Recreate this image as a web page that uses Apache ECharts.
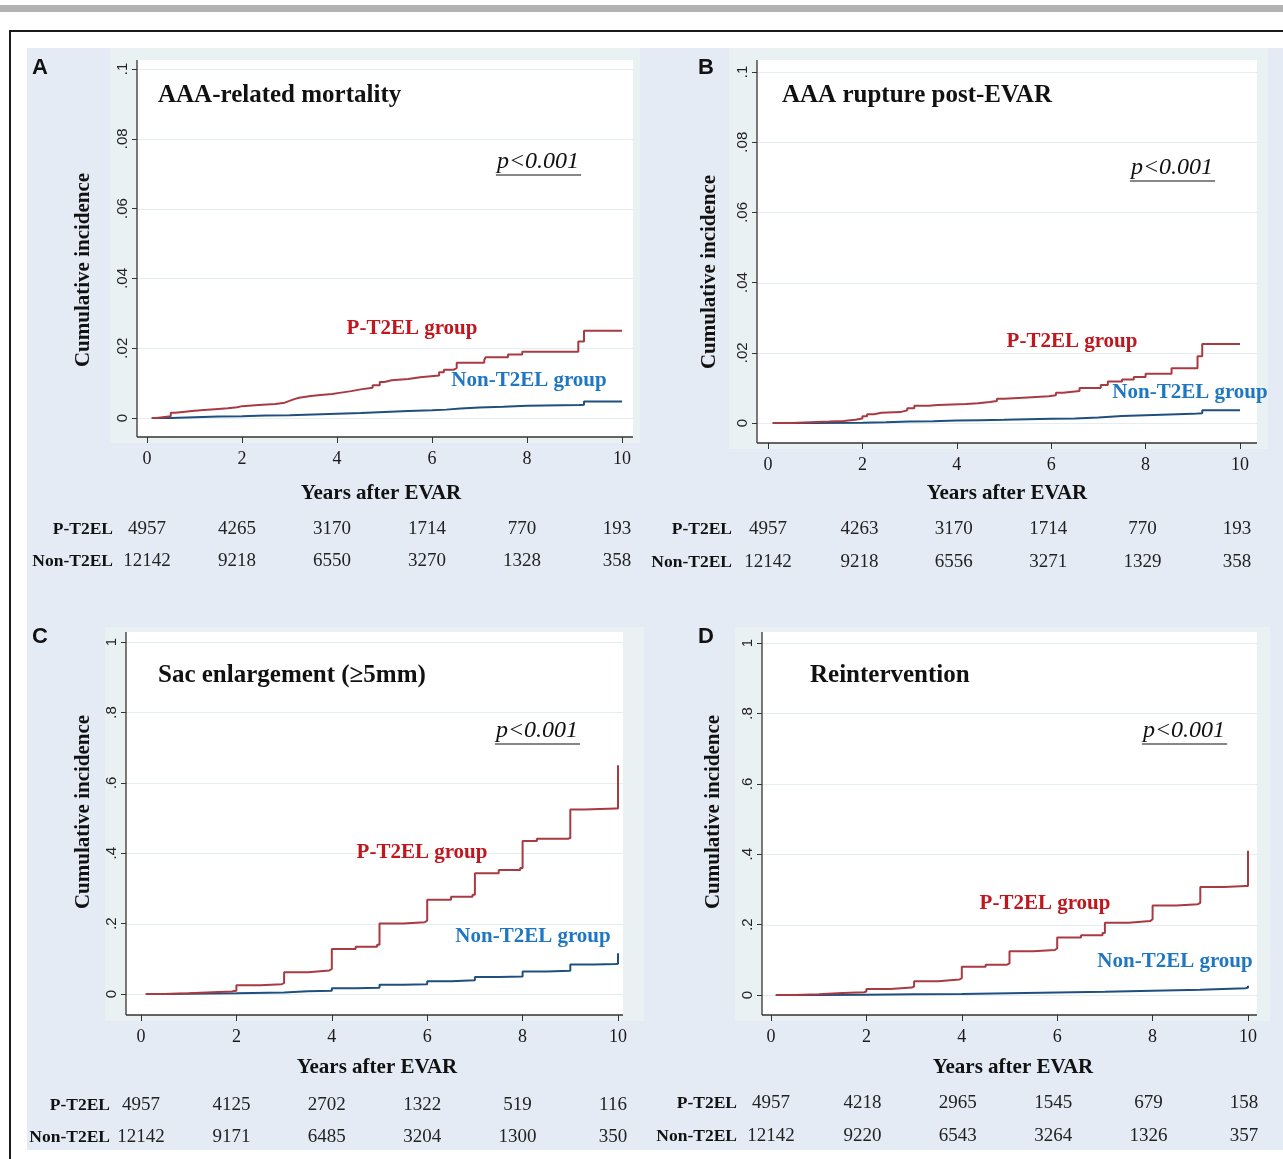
<!DOCTYPE html>
<html><head><meta charset="utf-8">
<script src="https://cdn.jsdelivr.net/npm/echarts@6/dist/echarts.min.js"></script>
<style>html,body{margin:0;padding:0;background:#fff}#c{width:1283px;height:1159px}</style>
</head><body><div id="c"></div><script>
// ---------------- DATA ----------------
const xTicks = [0, 2, 4, 6, 8, 10];
const yTicksSmall = [0, 0.02, 0.04, 0.06, 0.08, 0.1];
const yLabelsSmall = ['0', '.02', '.04', '.06', '.08', '.1'];
const yTicksBig = [0, 0.2, 0.4, 0.6, 0.8, 1];
const yLabelsBig = ['0', '.2', '.4', '.6', '.8', '1'];

const panelLetters = ['A', 'B', 'C', 'D'];
const panelTitles = ['AAA-related mortality', 'AAA rupture post-EVAR', 'Sac enlargement (\u22655mm)', 'Reintervention'];
const pValueText = 'p<0.001';
const groupNames = ['P-T2EL group', 'Non-T2EL group'];
const rowNames = ['P-T2EL', 'Non-T2EL'];
const yTitle = 'Cumulative incidence';
const xTitle = 'Years after EVAR';

// A: AAA-related mortality
const mortP = [[0.1,0],[0.2,0.0005],[0.5,0.0015],[0.6,0.0018],[0.8,0.0021],[1.0,0.0023],[1.2,0.0026],[1.5,0.0028],[1.7,0.0031],[1.9,0.0034],[2.0,0.0037],[2.35,0.004],[2.7,0.0044],[2.9,0.0049],[3.0,0.0054],[3.1,0.0058],[3.2,0.0063],[3.45,0.0066],[3.65,0.0069],[3.9,0.0072],[4.05,0.0077],[4.3,0.0082],[4.5,0.0087],[4.75,0.0094],[4.9,0.0103],[5.0,0.0108],[5.15,0.0112],[5.5,0.0117],[5.75,0.0122],[6.15,0.0131],[6.25,0.0138],[6.45,0.0143],[6.52,0.0158],[7.1,0.0166],[7.13,0.0174],[7.6,0.0182],[7.9,0.019],[9.08,0.0219],[9.2,0.025],[10,0.025]];
const mortN = [[0.1,0],[0.5,0.0002],[1.0,0.0004],[1.5,0.0005],[2.0,0.0007],[2.5,0.0008],[3.0,0.001],[3.5,0.0012],[4.0,0.0014],[4.5,0.0017],[5.0,0.002],[5.5,0.0022],[6.0,0.0024],[6.3,0.0027],[6.6,0.003],[7.0,0.0032],[7.5,0.0035],[8.0,0.0037],[9.1,0.0038],[9.2,0.0047],[10,0.0048]];
// B: AAA rupture post-EVAR
const ruptP = [[0.1,0],[0.5,0.0004],[1.3,0.0006],[1.6,0.0009],[1.85,0.0013],[2.0,0.0019],[2.1,0.0025],[2.25,0.0029],[2.4,0.0031],[2.8,0.0036],[2.95,0.0042],[3.1,0.0049],[3.4,0.0051],[3.6,0.0054],[4.2,0.0056],[4.45,0.006],[4.7,0.0063],[4.85,0.0069],[5.0,0.0073],[5.5,0.0076],[5.95,0.0079],[6.1,0.0086],[6.25,0.0091],[6.6,0.01],[7.05,0.0108],[7.2,0.0118],[7.5,0.0124],[7.75,0.0131],[8.0,0.014],[8.55,0.0156],[9.1,0.019],[9.2,0.0225],[10,0.0225]];
const ruptN = [[0.1,0],[1.0,0.0001],[2.0,0.0002],[2.5,0.0004],[3.0,0.0005],[3.5,0.0007],[4.0,0.0008],[4.5,0.0009],[5.0,0.0011],[5.5,0.0012],[6.0,0.0013],[6.5,0.0016],[7.0,0.002],[7.5,0.0022],[8.0,0.0024],[8.5,0.0026],[9.0,0.0028],[9.2,0.0036],[10,0.0037]];
// C: Sac enlargement
const sacP = [[0.1,0],[0.5,0.002],[1.0,0.005],[1.5,0.007],[1.9,0.009],[2.0,0.025],[2.5,0.028],[2.95,0.031],[3.0,0.062],[3.5,0.067],[3.95,0.071],[4.0,0.128],[4.5,0.134],[4.95,0.14],[5.0,0.2],[5.5,0.204],[5.95,0.209],[6.0,0.268],[6.5,0.276],[6.95,0.282],[7.0,0.343],[7.5,0.352],[7.95,0.358],[8.0,0.435],[8.3,0.441],[8.95,0.443],[9.0,0.524],[9.3,0.527],[9.95,0.527],[10,0.65]];
const sacN = [[0.1,0],[0.5,0.001],[1.0,0.002],[2.0,0.004],[3.0,0.008],[3.5,0.009],[4.0,0.016],[4.5,0.018],[5.0,0.026],[5.5,0.028],[6.0,0.036],[6.5,0.039],[7.0,0.048],[7.5,0.05],[8.0,0.064],[8.5,0.066],[9.0,0.084],[9.5,0.085],[9.95,0.086],[10,0.116]];
// D: Reintervention
const reintP = [[0.1,0],[0.5,0.002],[1.0,0.006],[1.5,0.008],[1.95,0.01],[2.0,0.017],[2.5,0.021],[2.95,0.024],[3.0,0.039],[3.5,0.044],[3.95,0.048],[4.0,0.08],[4.5,0.086],[4.95,0.09],[5.0,0.124],[5.5,0.128],[5.95,0.133],[6.0,0.163],[6.5,0.17],[6.95,0.176],[7.0,0.205],[7.5,0.21],[7.95,0.215],[8.0,0.254],[8.5,0.258],[8.95,0.262],[9.0,0.307],[9.5,0.31],[9.95,0.31],[10,0.41]];
const reintN = [[0.1,0],[1.0,0.001],[2.0,0.002],[3.0,0.003],[4.0,0.005],[5.0,0.007],[6.0,0.009],[7.0,0.012],[8.0,0.015],[9.0,0.019],[9.95,0.021],[10,0.026]];

// Numbers at risk
const mortRiskP = [4957, 4265, 3170, 1714, 770, 193];
const mortRiskN = [12142, 9218, 6550, 3270, 1328, 358];
const ruptRiskP = [4957, 4263, 3170, 1714, 770, 193];
const ruptRiskN = [12142, 9218, 6556, 3271, 1329, 358];
const sacRiskP = [4957, 4125, 2702, 1322, 519, 116];
const sacRiskN = [12142, 9171, 6485, 3204, 1300, 350];
const reintRiskP = [4957, 4218, 2965, 1545, 679, 158];
const reintRiskN = [12142, 9220, 6543, 3264, 1326, 357];

// ---------------- LAYOUT / STYLE ----------------
const SERIF = "'Liberation Serif','Times New Roman',serif";
const SANS = "'Liberation Sans',Arial,sans-serif";
const COL_P_LINE = '#a83a42', COL_N_LINE = '#1f4f7e';
const COL_P_TXT = '#c0161e', COL_N_TXT = '#1f77c2';
const BG_OUTER = '#e5ebf5', BG_REGION = '#eaf1f3', GRID_COL = '#e4edf0';

const panels = [
  {curves:[mortP, mortN], risk:[mortRiskP, mortRiskN], ticks:yTicksSmall, labels:yLabelsSmall, max:0.1, step:0.02,
   x0:147, x10:622, yb:418, yt:69, plot:[137,60,633,437], reg:[110,48,640,443],
   letter:[40,68], title:[158,96], p:[538,162], gp:[412,329], gn:[529,381], yT:[84,270], xT:[381,494], rows:[529,561], rowRight:113, tshift:-5},
  {curves:[ruptP, ruptN], risk:[ruptRiskP, ruptRiskN], ticks:yTicksSmall, labels:yLabelsSmall, max:0.1, step:0.02,
   x0:768, x10:1240, yb:423, yt:72, plot:[757,60,1257,443], reg:[729,48,1268,449],
   letter:[706,68], title:[782,96], p:[1172,168], gp:[1072,342], gn:[1190,393], yT:[710,272], xT:[1007,494], rows:[529,562], rowRight:732, tshift:-3},
  {curves:[sacP, sacN], risk:[sacRiskP, sacRiskN], ticks:yTicksBig, labels:yLabelsBig, max:1, step:0.2,
   x0:141, x10:618, yb:994, yt:642, plot:[126,632,623,1015], reg:[105,627,644,1021],
   letter:[40,637], title:[158,676], p:[537,731], gp:[422,853], gn:[533,937], yT:[84,812], xT:[377,1068], rows:[1105,1137], rowRight:110, tshift:-5},
  {curves:[reintP, reintN], risk:[reintRiskP, reintRiskN], ticks:yTicksBig, labels:yLabelsBig, max:1, step:0.2,
   x0:771, x10:1248, yb:995, yt:643, plot:[762,632,1257,1015], reg:[735,627,1270,1021],
   letter:[706,637], title:[810,676], p:[1184,731], gp:[1045,904], gn:[1175,962], yT:[714,812], xT:[1013,1068], rows:[1103,1136], rowRight:737, tshift:-4}
];

const chart = echarts.init(document.getElementById('c'), null, {renderer:'canvas', width:1283, height:1159});

const grids = [], xAxes = [], yAxes = [], series = [];
panels.forEach((P, i) => {
  grids.push({left:P.x0, top:P.yt, width:P.x10 - P.x0, height:P.yb - P.yt, containLabel:false});
  xAxes.push({type:'value', gridIndex:i, min:0, max:10, interval:2, offset:P.plot[3] - P.yb,
    axisLine:{show:false, onZero:false}, splitLine:{show:false},
    axisTick:{show:true, length:6, lineStyle:{color:'#333', width:1}},
    axisLabel:{margin:13, fontFamily:SERIF, fontSize:18, color:'#1a1a1a',
      formatter: v => { const k = xTicks.indexOf(v); return k >= 0 ? String(xTicks[k]) : ''; }}});
  yAxes.push({type:'value', gridIndex:i, min:0, max:P.max, interval:P.step, offset:P.x0 - P.plot[0],
    axisLine:{show:false, onZero:false},
    splitLine:{show:false},
    axisTick:{show:true, length:5, lineStyle:{color:'#333', width:1}},
    axisLabel:{rotate:90, margin:7, fontFamily:SANS, fontSize:15, color:'#222',
      formatter: v => { let best = 0; P.ticks.forEach((t, k) => { if (Math.abs(t - v) < Math.abs(P.ticks[best] - v)) best = k; }); return P.labels[best]; }}});
  P.curves.forEach((d, j) => {
    series.push({type:'line', xAxisIndex:i, yAxisIndex:i, step:'end', data:d, showSymbol:false, symbol:'none',
      lineStyle:{color: j === 0 ? COL_P_LINE : COL_N_LINE, width:2}, z: j === 0 ? 4 : 3, silent:true});
  });
});

chart.setOption({animation:false, backgroundColor:'#ffffff', grid:grids, xAxis:xAxes, yAxis:yAxes, series:series});

// ---------------- GRAPHICS ----------------
const mctx = document.createElement('canvas').getContext('2d');
function measure(text, font) { mctx.font = font; return mctx.measureText(text).width; }

function rect(x1, y1, x2, y2, fill, z) { return {type:'rect', shape:{x:x1, y:y1, width:x2 - x1, height:y2 - y1}, style:{fill:fill}, z:z, silent:true}; }
function line(x1, y1, x2, y2, color, w, z) { return {type:'line', shape:{x1:x1, y1:y1, x2:x2, y2:y2}, style:{stroke:color, lineWidth:w}, z:z, silent:true}; }
function text(x, y, s, o) {
  return {type:'text', x:x, y:y, rotation:o.rot || 0, z:100, silent:true,
    style:{text:s, fill:o.fill || '#111', fontFamily:o.family || SERIF, fontSize:o.size || 18,
      fontWeight:o.weight || 'normal', fontStyle:o.style || 'normal',
      align:o.align || 'center', verticalAlign:o.va || 'middle',
      textAlign:o.align || 'center', textVerticalAlign:o.va || 'middle'}};
}

const g = [];
g.push(rect(0, 5, 1283, 12, '#b3b3b3', -20));
g.push(rect(27, 48, 1290, 1150, BG_OUTER, -19));
g.push({type:'rect', shape:{x:10, y:31, width:1290, height:1150}, style:{fill:'none', stroke:'#1a1a1a', lineWidth:2}, z:-18, silent:true});

panels.forEach((P, i) => {
  g.push(rect(P.reg[0], P.reg[1], P.reg[2], P.reg[3], BG_REGION, -17));
  g.push(rect(P.plot[0], P.plot[1], P.plot[2], P.plot[3], '#ffffff', -16));
  // horizontal grid lines across the whole plot region, at the axis tick values
  P.ticks.forEach(t => {
    const py = Math.round(chart.convertToPixel({yAxisIndex:i}, t)) + 0.5;
    g.push(line(P.plot[0], py, P.plot[2], py, GRID_COL, 1, -15));
  });
  g.push(line(P.plot[0], P.plot[1], P.plot[0], P.plot[3], '#333', 1.3, 50));
  g.push(line(P.plot[0], P.plot[3], P.plot[2], P.plot[3], '#333', 1.3, 50));
  g.push(text(P.letter[0], P.letter[1], panelLetters[i], {family:SANS, weight:'bold', size:22, fill:'#111'}));
  g.push(text(P.title[0], P.title[1], panelTitles[i], {weight:'bold', size:25, align:'left', fill:'#111'}));
  const pf = 'italic 24px ' + SERIF;
  const pw = measure(pValueText, pf);
  g.push(text(P.p[0], P.p[1], pValueText, {style:'italic', size:24, fill:'#111'}));
  g.push(line(P.p[0] - pw / 2 - 1, P.p[1] + 13, P.p[0] + pw / 2 + 2, P.p[1] + 13, '#111', 1.2, 100));
  g.push(text(P.gp[0], P.gp[1], groupNames[0], {weight:'bold', size:21, fill:COL_P_TXT}));
  g.push(text(P.gn[0], P.gn[1], groupNames[1], {weight:'bold', size:21, fill:COL_N_TXT}));
  g.push(text(P.yT[0], P.yT[1], yTitle, {weight:'bold', size:21, rot:Math.PI / 2, fill:'#111'}));
  g.push(text(P.xT[0], P.xT[1], xTitle, {weight:'bold', size:21, fill:'#111'}));
  rowNames.forEach((rn, r) => {
    g.push(text(P.rowRight, P.rows[r], rn, {weight:'bold', size:17.5, align:'right', fill:'#111'}));
    P.risk[r].forEach((n, k) => {
      const px = chart.convertToPixel({xAxisIndex:i}, xTicks[k]) + (k > 0 ? P.tshift : 0);
      g.push(text(px, P.rows[r], String(n), {size:19, fill:'#222'}));
    });
  });
});

chart.setOption({graphic:{elements:g}});
</script></body></html>
